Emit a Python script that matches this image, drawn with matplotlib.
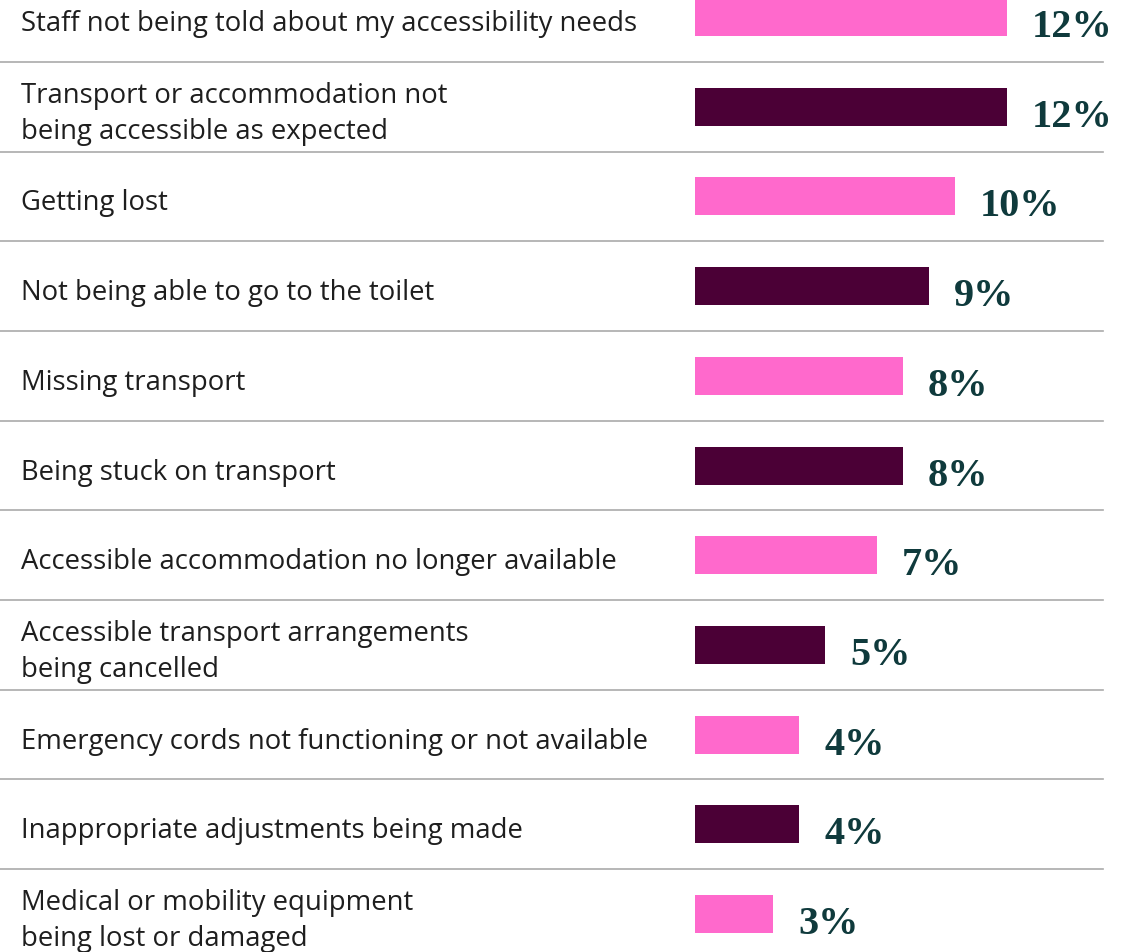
import matplotlib.pyplot as plt

labels = [
    "Staff not being told about my accessibility needs",
    "Transport or accommodation not\nbeing accessible as expected",
    "Getting lost",
    "Not being able to go to the toilet",
    "Missing transport",
    "Being stuck on transport",
    "Accessible accommodation no longer available",
    "Accessible transport arrangements\nbeing cancelled",
    "Emergency cords not functioning or not available",
    "Inappropriate adjustments being made",
    "Medical or mobility equipment\nbeing lost or damaged",
]
values = [12, 12, 10, 9, 8, 8, 7, 5, 4, 4, 3]
colors = ["#FF69CC", "#4B0036"] * 6

W, H = 1129, 953
fig = plt.figure(figsize=(W / 100, H / 100), dpi=100)
ax = fig.add_axes([0, 0, 1, 1])

# pixel geometry: bar start at x=695, 26 px per percent; row pitch ~89.7 px
x0, ppx = 695, 26.0
y0, pitch = 18, 89.7
ax.set_xlim(-x0 / ppx, (W - x0) / ppx)
ax.set_ylim((H - y0) / pitch, -y0 / pitch)
ax.axis("off")

rows = range(len(values))
ax.barh(rows, values, height=38 / pitch, color=colors[:len(values)])

for i, v in zip(rows, values):
    ax.text(v + 25 / ppx, i + 19 / pitch, f"{v}%", va="baseline", ha="left",
            fontsize=29, fontweight="bold", family="Liberation Serif",
            color="#0F3A3C")
    ax.text(21 / W, i + 6 / pitch, labels[i], transform=ax.get_yaxis_transform(),
            va="center", ha="left", fontsize=19.8, family="Open Sans",
            color="#1E1E1E", linespacing=1.4)

for i in range(len(values) - 1):
    ax.plot([-x0 / ppx, (1103 - x0) / ppx], [i + 0.5, i + 0.5],
            color="#AAAAAA", lw=1.2)

fig.savefig("out.png", dpi=100)
